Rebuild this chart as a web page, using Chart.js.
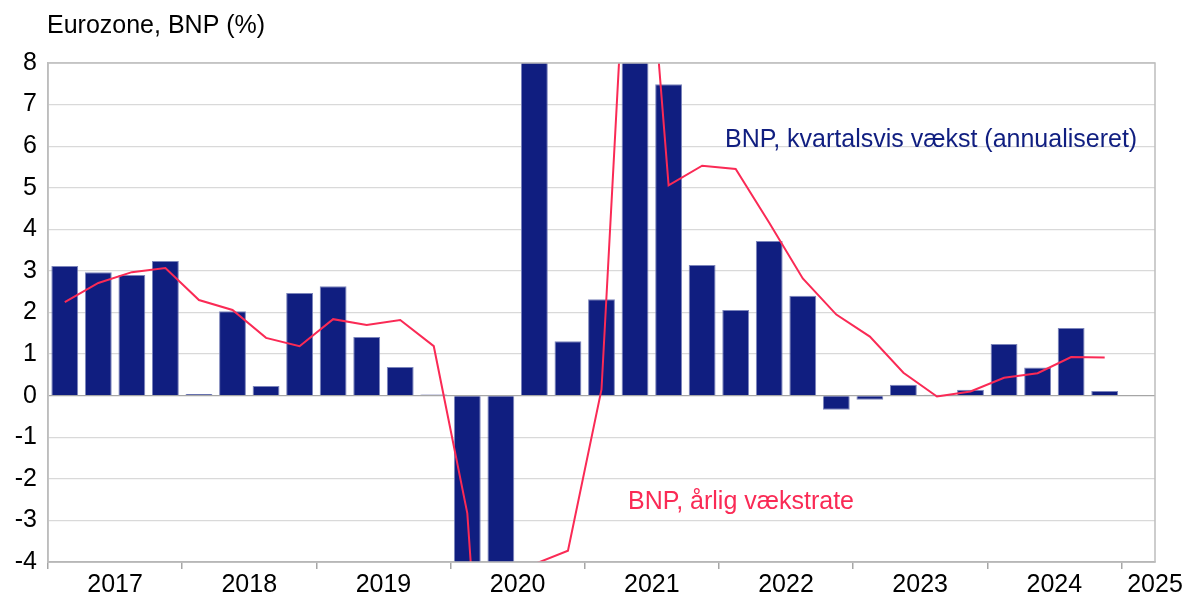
<!DOCTYPE html>
<html>
<head>
<meta charset="utf-8">
<script src="https://cdn.jsdelivr.net/npm/chart.js@4"></script>
<style>
  body { margin: 0; background: #fff; }
  canvas { display: block; }
</style>
</head>
<body>
<canvas id="myChart" width="1187" height="598"></canvas>
<script>
const quarters = [
    '2017K1', '2017K2', '2017K3', '2017K4',
    '2018K1', '2018K2', '2018K3', '2018K4',
    '2019K1', '2019K2', '2019K3', '2019K4',
    '2020K1', '2020K2', '2020K3', '2020K4',
    '2021K1', '2021K2', '2021K3', '2021K4',
    '2022K1', '2022K2', '2022K3', '2022K4',
    '2023K1', '2023K2', '2023K3', '2023K4',
    '2024K1', '2024K2', '2024K3', '2024K4'
];

// BNP, kvartalsvis vækst (annualiseret)
const quarterlyGrowth = [
    3.12, 2.97, 2.90, 3.24,
    0.04, 2.03, 0.23, 2.47,
    2.63, 1.41, 0.69, 0.03,
    -13.0, -39.0, 60.0, 1.31,
    2.32, 9.0, 7.49, 3.14,
    2.06, 3.72, 2.40, -0.34,
    -0.10, 0.26, 0.02, 0.14,
    1.24, 0.68, 1.63, 0.11
];

// BNP, årlig vækstrate
const annualGrowth = [
    2.25, 2.71, 2.97, 3.07,
    2.30, 2.06, 1.39, 1.19,
    1.84, 1.70, 1.82, 1.19,
    -2.83, -14.5, -4.05, -3.73,
    0.15, 15.2, 5.06, 5.53,
    5.45, 4.16, 2.82, 1.95,
    1.42, 0.55, -0.02, 0.10,
    0.43, 0.54, 0.93, 0.92
];

const yearLabels = ['2017', '2018', '2019', '2020', '2021', '2022', '2023', '2024', '2025'];
const yTicks = [-4, -3, -2, -1, 0, 1, 2, 3, 4, 5, 6, 7, 8];

const FONT = "'Liberation Sans', Arial, sans-serif";
const NAVY = '#101E80';
const RED = '#FA2A55';

// quarter i sits in the middle of slot [i, i+1]
const toPoints = vals => vals.map((v, i) => ({ x: i + 0.5, y: v }));

const textPlugin = {
    id: 'texts',
    afterDatasetsDraw(chart) {
        const ctx = chart.ctx;
        const a = chart.chartArea;
        ctx.save();
        // frame round the plot
        ctx.strokeStyle = '#BDBDBD';
        ctx.lineWidth = 1.5;
        ctx.strokeRect(a.left, a.top, a.right - a.left, a.bottom - a.top);
        ctx.restore();
    },
    afterDraw(chart) {
        const ctx = chart.ctx;
        ctx.save();
        ctx.font = '25px ' + FONT;
        ctx.textBaseline = 'alphabetic';
        ctx.textAlign = 'left';
        ctx.fillStyle = '#000';
        ctx.fillText('Eurozone, BNP (%)', 47, 33);
        ctx.fillStyle = NAVY;
        ctx.fillText('BNP, kvartalsvis vækst (annualiseret)', 725, 147);
        ctx.fillStyle = RED;
        ctx.fillText('BNP, årlig vækstrate', 628, 509);
        ctx.restore();
    }
};

const data = {
    datasets: [
        {
            type: 'line',
            label: 'BNP, årlig vækstrate',
            data: toPoints(annualGrowth),
            borderColor: RED,
            borderWidth: 2,
            pointRadius: 0,
            tension: 0,
            order: 0
        },
        {
            type: 'bar',
            label: 'BNP, kvartalsvis vækst (annualiseret)',
            data: toPoints(quarterlyGrowth),
            backgroundColor: NAVY,
            borderColor: 'rgba(110,120,180,0.9)',
            borderWidth: 1,
            barPercentage: 0.8,
            categoryPercentage: 1,
            order: 1
        }
    ]
};

const config = {
    type: 'bar',
    data: data,
    options: {
        responsive: false,
        animation: false,
        layout: { padding: { top: 63, right: 32, left: 0, bottom: 0 } },
        scales: {
            x: {
                type: 'linear',
                min: 0,
                max: quarters.length + 1,
                offset: false,
                afterBuildTicks: s => {
                    const t = [];
                    for (let v = 0; v <= quarters.length; v += 2) t.push({ value: v });
                    t.push({ value: quarters.length + 1 });
                    s.ticks = t;
                },
                afterFit: s => {
                    s.height = 36;
                    s.paddingLeft = 0;
                    s.paddingRight = 0;
                },
                grid: {
                    offset: false,
                    drawOnChartArea: false,
                    drawTicks: true,
                    tickLength: 7,
                    lineWidth: 1.5,
                    tickColor: c => (c.tick && c.tick.value % 4 === 0 && c.tick.value <= quarters.length) ? '#A6A6A6' : 'rgba(0,0,0,0)'
                },
                border: { display: true, color: '#A6A6A6', width: 1.5 },
                ticks: {
                    autoSkip: false,
                    maxRotation: 0,
                    padding: 1,
                    color: '#000',
                    font: { family: FONT, size: 25 },
                    callback: v => {
                        if (v === quarters.length + 1) return yearLabels[yearLabels.length - 1];
                        if (v % 4 === 2) return yearLabels[(v - 2) / 4];
                        return '';
                    }
                }
            },
            y: {
                min: -4,
                max: 8,
                afterBuildTicks: s => { s.ticks = yTicks.map(v => ({ value: v })); },
                afterFit: s => {
                    s.width = 48;
                    s.paddingTop = 0;
                    s.paddingBottom = 0;
                },
                grid: {
                    drawTicks: false,
                    lineWidth: 1.2,
                    color: c => (c.tick && c.tick.value === 0) ? '#A6A6A6' : '#D9D9D9'
                },
                border: { display: true, color: '#BDBDBD', width: 1.5 },
                ticks: {
                    padding: 11,
                    color: '#000',
                    font: { family: FONT, size: 25 }
                }
            }
        },
        plugins: {
            legend: { display: false },
            tooltip: { enabled: false }
        }
    },
    plugins: [textPlugin]
};

const myChart = new Chart(
    document.getElementById('myChart'),
    config
);
</script>
</body>
</html>
